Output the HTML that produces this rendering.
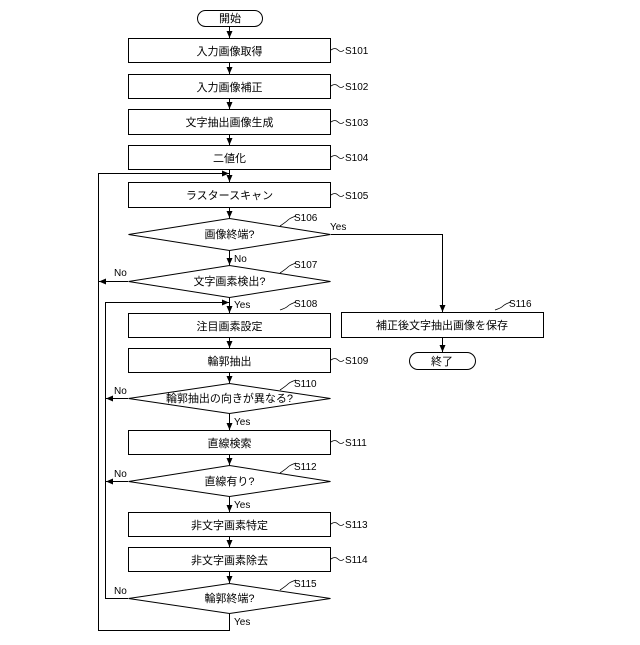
<!DOCTYPE html>
<html><head><meta charset="utf-8"><style>
html,body{margin:0;padding:0;background:#fff;}
svg text{font-family:"Liberation Sans","Noto Sans CJK JP",sans-serif;fill:#000;}
</style></head><body>
<svg width="640" height="640" viewBox="0 0 640 640" xmlns="http://www.w3.org/2000/svg">
<defs><marker id="a" markerWidth="8" markerHeight="8" refX="7" refY="4" orient="auto" markerUnits="userSpaceOnUse"><path d="M0,1 L7,4 L0,7 Z" fill="#000"/></marker></defs>
<g fill="none" stroke="#000" stroke-width="1">
<rect x="197.5" y="10.5" width="65" height="16" rx="8"/>
<rect x="128.5" y="38.5" width="202" height="24"/>
<rect x="128.5" y="74.5" width="202" height="24"/>
<rect x="128.5" y="109.5" width="202" height="25"/>
<rect x="128.5" y="145.5" width="202" height="24"/>
<rect x="128.5" y="182.5" width="202" height="25"/>
<polygon points="229.5,218.5 330.5,234.5 229.5,250.5 128.5,234.5"/>
<polygon points="229.5,265.5 330.5,281.5 229.5,297.5 128.5,281.5"/>
<rect x="128.5" y="313.5" width="202" height="24"/>
<rect x="128.5" y="348.5" width="202" height="24"/>
<polygon points="229.5,383.5 330.5,398.5 229.5,413.5 128.5,398.5"/>
<rect x="128.5" y="430.5" width="202" height="24"/>
<polygon points="229.5,465.5 330.5,481.5 229.5,496.5 128.5,481.5"/>
<rect x="128.5" y="512.5" width="202" height="24"/>
<rect x="128.5" y="547.5" width="202" height="24"/>
<polygon points="229.5,583.5 330.5,598.5 229.5,613.5 128.5,598.5"/>
<rect x="341.5" y="312.5" width="202" height="25"/>
<rect x="409.5" y="352.5" width="66" height="17" rx="8.5"/>
</g>
<g fill="none" stroke="#000" stroke-width="1" marker-end="url(#a)">
<line x1="229.5" y1="26" x2="229.5" y2="38"/>
<line x1="229.5" y1="63" x2="229.5" y2="74"/>
<line x1="229.5" y1="99" x2="229.5" y2="109"/>
<line x1="229.5" y1="135" x2="229.5" y2="145"/>
<line x1="229.5" y1="170" x2="229.5" y2="182"/>
<line x1="229.5" y1="208" x2="229.5" y2="218"/>
<line x1="229.5" y1="251" x2="229.5" y2="265"/>
<line x1="229.5" y1="298" x2="229.5" y2="313"/>
<line x1="229.5" y1="338" x2="229.5" y2="348"/>
<line x1="229.5" y1="373" x2="229.5" y2="383"/>
<line x1="229.5" y1="414" x2="229.5" y2="430"/>
<line x1="229.5" y1="455" x2="229.5" y2="465"/>
<line x1="229.5" y1="497" x2="229.5" y2="512"/>
<line x1="229.5" y1="537" x2="229.5" y2="547"/>
<line x1="229.5" y1="572" x2="229.5" y2="583"/>
<polyline points="229.5,614 229.5,630.5 98.5,630.5 98.5,173.5 229,173.5"/>
<line x1="128" y1="281.5" x2="99" y2="281.5"/>
<polyline points="128,598.5 105.5,598.5 105.5,302.5 229,302.5"/>
<line x1="128" y1="398.5" x2="106" y2="398.5"/>
<line x1="128" y1="481.5" x2="106" y2="481.5"/>
<polyline points="331,234.5 442.5,234.5 442.5,312"/>
<line x1="442.5" y1="338" x2="442.5" y2="352"/>
</g>
<g fill="none" stroke="#000" stroke-width="0.8">
<path d="M331,50 q4,-3 7,0 t6,0"/><path d="M331,86 q4,-3 7,0 t6,0"/><path d="M331,122 q4,-3 7,0 t6,0"/>
<path d="M331,157 q4,-3 7,0 t6,0"/><path d="M331,195 q4,-3 7,0 t6,0"/><path d="M331,360 q4,-3 7,0 t6,0"/>
<path d="M331,442 q4,-3 7,0 t6,0"/><path d="M331,524 q4,-3 7,0 t6,0"/><path d="M331,559 q4,-3 7,0 t6,0"/>
<path d="M280,226 q6,-4 8,-6 t8,-4"/><path d="M280,273 q6,-4 8,-6 t8,-4"/><path d="M280,310 q6,-2 8,-4 t8,-4"/>
<path d="M280,390 q6,-4 8,-6 t8,-4"/><path d="M280,473 q6,-4 8,-6 t8,-4"/><path d="M280,590 q6,-4 8,-6 t8,-4"/>
<path d="M495,310 q6,-2 8,-4 t8,-4"/>
</g>
<g font-size="11" text-anchor="middle">
<text x="230" y="22">開始</text>
<text x="229.5" y="55">入力画像取得</text>
<text x="229.5" y="91">入力画像補正</text>
<text x="229.5" y="126">文字抽出画像生成</text>
<text x="229.5" y="162">二値化</text>
<text x="229.5" y="199">ラスタースキャン</text>
<text x="229.5" y="238">画像終端?</text>
<text x="229.5" y="285">文字画素検出?</text>
<text x="229.5" y="330">注目画素設定</text>
<text x="229.5" y="365">輪郭抽出</text>
<text x="229.5" y="402">輪郭抽出の向きが異なる?</text>
<text x="229.5" y="447">直線検索</text>
<text x="229.5" y="485">直線有り?</text>
<text x="229.5" y="529">非文字画素特定</text>
<text x="229.5" y="564">非文字画素除去</text>
<text x="229.5" y="602">輪郭終端?</text>
<text x="442" y="329">補正後文字抽出画像を保存</text>
<text x="442" y="365">終了</text>
</g>
<g font-size="10">
<text x="345" y="54">S101</text><text x="345" y="90">S102</text><text x="345" y="126">S103</text>
<text x="345" y="161">S104</text><text x="345" y="199">S105</text><text x="345" y="364">S109</text>
<text x="345" y="446">S111</text><text x="345" y="528">S113</text><text x="345" y="563">S114</text>
<text x="294" y="221">S106</text><text x="294" y="268">S107</text><text x="294" y="307">S108</text>
<text x="294" y="387">S110</text><text x="294" y="470">S112</text><text x="294" y="587">S115</text>
<text x="509" y="307">S116</text>
<text x="330" y="230">Yes</text>
<text x="234" y="262">No</text>
<text x="234" y="308">Yes</text>
<text x="234" y="425">Yes</text>
<text x="234" y="508">Yes</text>
<text x="234" y="625">Yes</text>
<text x="114" y="276">No</text>
<text x="114" y="394">No</text>
<text x="114" y="477">No</text>
<text x="114" y="594">No</text>
</g>
</svg>
</body></html>
